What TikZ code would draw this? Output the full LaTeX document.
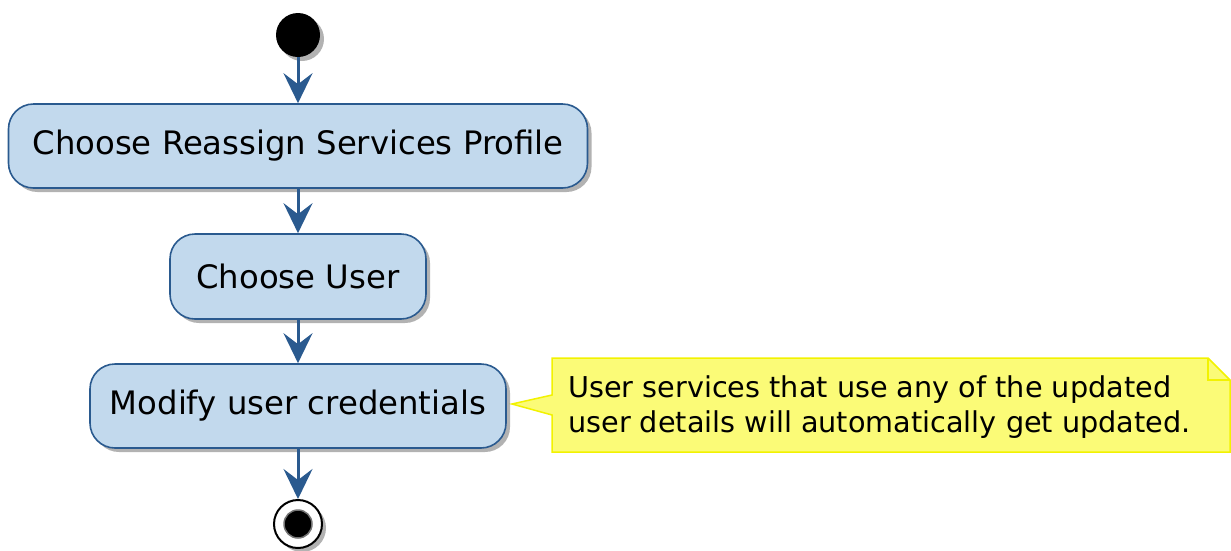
\documentclass[tikz,border=0pt]{standalone}
\usepackage{fontspec}
\setmainfont{DejaVu Sans}
\usetikzlibrary{arrows.meta,shadows,backgrounds}
\definecolor{boxfill}{HTML}{C2D9ED}
\definecolor{boxline}{HTML}{2A5A8F}
\definecolor{notefill}{HTML}{FBFB77}
\definecolor{noteline}{HTML}{F2F200}
\begin{document}
\begin{tikzpicture}[x=1pt,y=-1pt,
  softshadow/.style={drop shadow={shadow xshift=4pt,shadow yshift=-4pt,fill=black!60,opacity=.5}},
  act/.style={draw=boxline,line width=1.6pt,fill=boxfill,rounded corners=25pt,
    font=\fontsize{32.3}{40}\selectfont,inner sep=0pt,softshadow},
  flow/.style={draw=boxline,line width=3pt,-{Stealth[length=30pt,width=29pt,inset=11pt]}},
  notetxt/.style={font=\fontsize{28.7}{35}\selectfont,align=left,inner sep=0pt}
]
\useasboundingbox (0,0) rectangle (1231,550);

\node (start) [circle,fill=black,minimum size=44pt,inner sep=0pt,softshadow] at (298,35) {};
\node (b1) [act,minimum width=579pt,minimum height=84pt] at (298,146) {Choose Reassign Services Profile};
\node (b2) [act,minimum width=256pt,minimum height=85pt] at (298,276.5) {Choose User};
\node (b3) [act,minimum width=416pt,minimum height=84pt] at (298,406) {Modify user credentials};
\node (end) [circle,draw=black,line width=2pt,fill=white,minimum size=48pt,inner sep=0pt,softshadow] at (298,524) {};
\node (endin) [circle,fill=black,draw=black!55,line width=1.5pt,minimum size=28pt,inner sep=0pt] at (end) {};

\draw[flow] (start) -- (b1);
\draw[flow] (b1) -- (b2);
\draw[flow] (b2) -- (b3);
\draw[flow] (b3) -- (end);

\node (note) [notetxt,anchor=north west] at (568,375) {User services that use any of the updated\\user details will automatically get updated.};

\coordinate (tip) at (512,404);
\begin{scope}[on background layer]
\draw[fill=notefill,draw=noteline,line width=1.5pt,line join=miter]
  (552,358) -- (1208,358) -- (1230,380) -- (1230,452) -- (552,452) -- (552,415) -- (tip) -- (552,395) -- cycle;
\draw[draw=noteline,line width=1.5pt] (1208,358) -- (1208,380) -- (1230,380);
\end{scope}
\end{tikzpicture}
\end{document}
